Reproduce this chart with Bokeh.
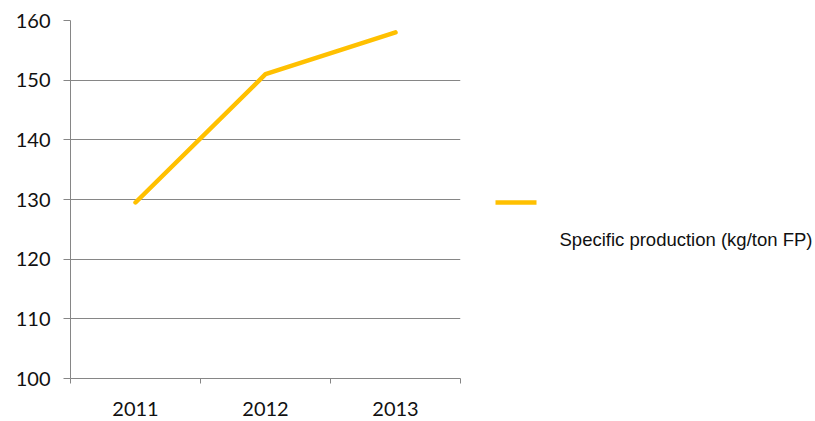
from bokeh.plotting import figure
from bokeh.models import FixedTicker, Range1d, ColumnDataSource
from bokeh.layouts import row
from bokeh.core.properties import value
from bokeh.embed import file_html
from bokeh.resources import INLINE

years = ["2011", "2012", "2013"]
values = [129.5, 151.0, 158.0]
series_name = "Specific production (kg/ton FP)"
y_ticks = [100, 110, 120, 130, 140, 150, 160]

LINE_COLOR = "#FFC000"
GRAY = "#868686"
TEXT = "#111111"

xpos = [i + 0.5 for i in range(len(years))]
src = ColumnDataSource(dict(x=xpos, y=values))

p = figure(width=470, height=421, output_backend="svg", toolbar_location=None,
           x_range=Range1d(0, len(years)), y_range=Range1d(100, 160),
           min_border_left=70, min_border_right=10, min_border_top=20, min_border_bottom=43)
p.outline_line_color = None

p.line("x", "y", source=src, line_color=LINE_COLOR, line_width=4.5, line_join="round", line_cap="round")

# y axis
p.yaxis.ticker = FixedTicker(ticks=y_ticks)
p.yaxis.axis_line_color = GRAY
p.yaxis.major_tick_line_color = GRAY
p.yaxis.major_tick_out = 7
p.yaxis.major_tick_in = 0
p.yaxis.minor_tick_line_color = None
p.yaxis.major_label_text_font = "Lato"
p.yaxis.major_label_text_font_size = "20px"
p.yaxis.major_label_text_color = TEXT
p.yaxis.major_label_standoff = 13

# x axis
p.xaxis.ticker = FixedTicker(ticks=xpos, minor_ticks=list(range(len(years) + 1)))
p.xaxis.major_label_overrides = {x: y for x, y in zip(xpos, years)}
p.xaxis.axis_line_color = GRAY
p.xaxis.major_tick_line_color = None
p.xaxis.minor_tick_line_color = GRAY
p.xaxis.minor_tick_out = 5
p.xaxis.minor_tick_in = 0
p.xaxis.major_label_text_font = "Lato"
p.xaxis.major_label_text_font_size = "20px"
p.xaxis.major_label_text_color = TEXT
p.xaxis.major_label_standoff = 17

p.xgrid.grid_line_color = None
p.ygrid.ticker = FixedTicker(ticks=y_ticks)
p.ygrid.grid_line_color = GRAY
p.ygrid.grid_line_width = 1

# legend panel: same top/bottom borders as the chart; y range maps to page pixels (top-down)
lg = figure(width=345, height=421, output_backend="svg", toolbar_location=None,
            x_range=Range1d(470, 815), y_range=Range1d(378, 20),
            x_axis_type=None, y_axis_type=None,
            min_border_left=0, min_border_right=0, min_border_top=20, min_border_bottom=43)
lg.outline_line_color = None
lg.xgrid.grid_line_color = None
lg.ygrid.grid_line_color = None
lg.line(x=[495, 536], y=[202, 202], line_color=LINE_COLOR, line_width=4.5)
lg.text(x=[559], y=[238.5], text=[series_name], text_font=value("Liberation Sans"),
        text_font_size="18.5px", text_color=TEXT, text_baseline="alphabetic", text_align="left")

layout = row(p, lg)
open("out.html", "w").write(file_html(layout, INLINE))
